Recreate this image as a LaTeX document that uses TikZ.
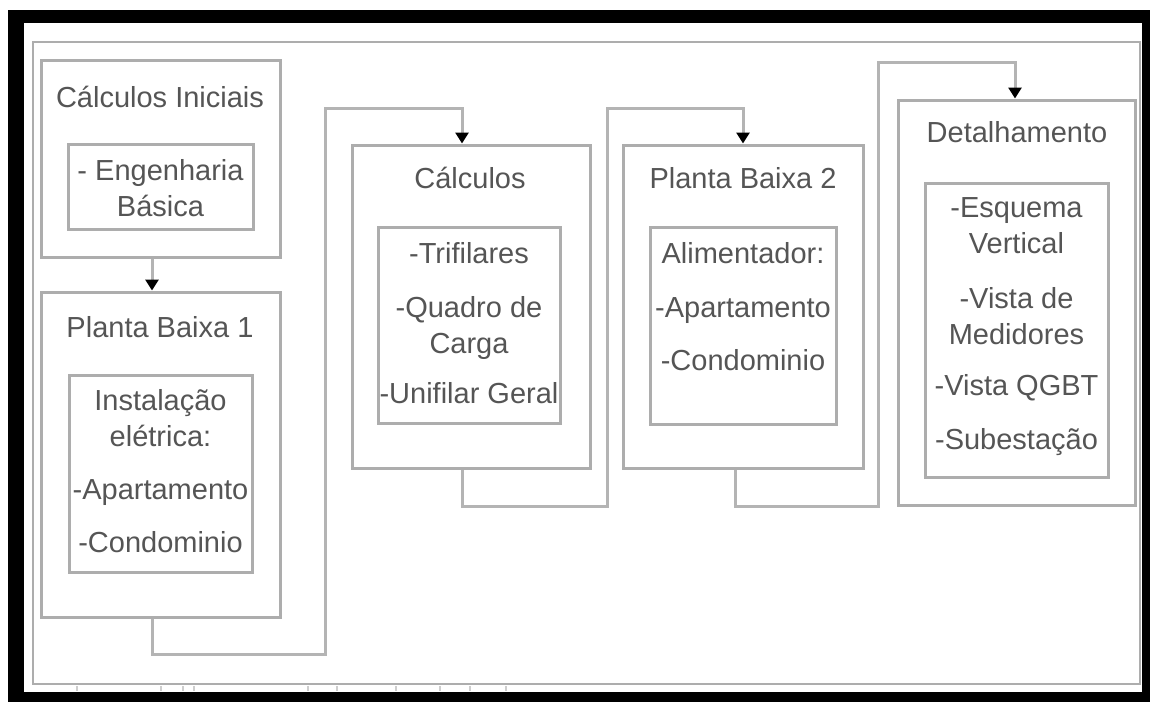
\documentclass[tikz,border=0pt]{standalone}
\usepackage{fontspec}
\setmainfont{Liberation Sans}
\usetikzlibrary{arrows.meta}
\definecolor{boxline}{HTML}{ADADAD}
\definecolor{connline}{HTML}{B4B4B4}
\definecolor{txtgray}{HTML}{555555}
\begin{document}
\begin{tikzpicture}[x=1pt,y=-1pt,
  outerbox/.style={draw=boxline,line width=3pt,inner sep=0pt,fill=white},
  innerbox/.style={draw=boxline,line width=3pt,inner sep=0pt},
  title/.style={text=txtgray,font=\fontsize{29}{36}\selectfont,inner sep=0pt,text height=20.8pt,text depth=0pt},
  body/.style={text=txtgray,font=\fontsize{29}{36}\selectfont,inner sep=0pt,align=center,anchor=north},
  conn/.style={draw=connline,line width=3pt},
  tip/.style={-{Triangle[width=13pt,length=11pt,color=black]}}]
% page and frame
\fill[black] (0,0) rectangle (1150,702);
\fill[white] (0,0) rectangle (1150,10);
\fill[white] (0,0) rectangle (8,702);
\fill[white] (24,23) rectangle (1142,692);
\useasboundingbox (0,0) rectangle (1150,702);
\draw[boxline,line width=2.5pt] (33,42) rectangle (1140,684);
\foreach \tx in {77,161,183,194,308,337,396,440,470,506}
  \draw[boxline!60,line width=1.5pt] (\tx,686) -- (\tx,691);
% outer boxes
\node[outerbox,minimum width=239pt,minimum height=197pt] (ci)  at (160.5,158.5) {};
\node[outerbox,minimum width=239pt,minimum height=325pt] (pb1) at (160.5,454.5) {};
\node[outerbox,minimum width=238pt,minimum height=323pt] (calc) at (471,306.5) {};
\node[outerbox,minimum width=240pt,minimum height=323pt] (pb2) at (743,306.5) {};
\node[outerbox,minimum width=237pt,minimum height=405pt] (det) at (1016.5,302.5) {};
% inner boxes
\node[innerbox,minimum width=185pt,minimum height=85pt]  (ciin)  at (160.5,186.5) {};
\node[innerbox,minimum width=183pt,minimum height=197pt] (pb1in) at (160.5,473.5) {};
\node[innerbox,minimum width=182pt,minimum height=196pt] (calcin) at (469,325) {};
\node[innerbox,minimum width=186pt,minimum height=197pt] (pb2in) at (743,325.5) {};
\node[innerbox,minimum width=183pt,minimum height=294pt] (detin) at (1016.5,330) {};
% titles
\node[title] (cit)   at (160,97)  {Cálculos Iniciais};
\node[title] (pb1t)  at (160,327) {Planta Baixa 1};
\node[title] (calct) at (470,178) {Cálculos};
\node[title] (pb2t)  at (743,178) {Planta Baixa 2};
\node[title] (dett)  at (1017,132) {Detalhamento};
% bodies
\node[body] (cib)   at (160.5,155) {\strut- Engenharia\\Básica};
\node[body] (pb1b)  at (160.5,385) {\strut Instalação\\elétrica:\\[17pt]-Apartamento\\[17pt]-Condominio};
\node[body] (calcb) at (469,238)   {\strut-Trifilares\\[18pt]-Quadro de\\Carga\\[14pt]-Unifilar Geral};
\node[body] (pb2b)  at (743,238)   {\strut Alimentador:\\[18pt]-Apartamento\\[17pt]-Condominio};
\node[body] (detb)  at (1016.5,192) {\strut-Esquema\\Vertical\\[19pt]-Vista de\\Medidores\\[15pt]-Vista QGBT\\[18pt]-Subestação};
% connector bend points
\coordinate (b1) at (325,108);
\coordinate (b2) at (607,108);
\coordinate (b3) at (878,62);
% connectors
\draw[conn,tip] ([xshift=-8.5pt]ci.south) -- ([xshift=-8.5pt]pb1.north);
\draw[conn,tip] ([xshift=-8.5pt]pb1.south) -- ++(0,36) -| (b1) -| ([xshift=-9pt]calc.north);
\draw[conn,tip] ([xshift=-9pt]calc.south) -- ++(0,37) -| (b2) -| (pb2.north);
\draw[conn,tip] ([xshift=-8pt]pb2.south) -- ++(0,37) -| (b3) -| ([xshift=-1.5pt]det.north);
\end{tikzpicture}
\end{document}
